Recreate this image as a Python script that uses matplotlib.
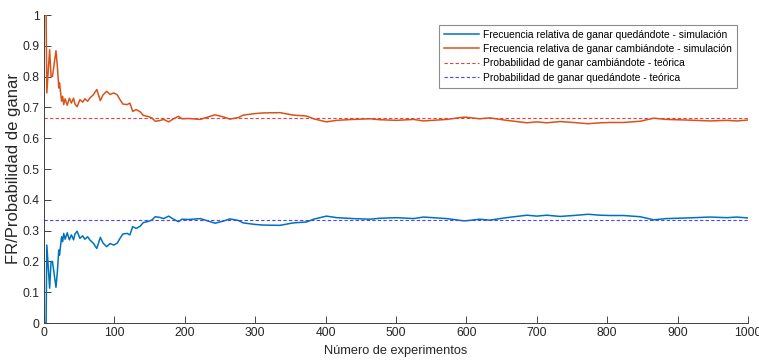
import matplotlib.pyplot as plt
import numpy as np

# numero de experimento donde se leyo cada punto
n_exp = [1, 3, 4, 8, 10, 12, 17, 19, 21, 22, 25, 26.5, 28, 30, 33, 36, 39, 42, 44, 47,
         51, 55, 58, 62, 65, 70, 75, 80, 84, 89, 94, 99, 104, 108, 112, 118, 122, 126,
         131, 137, 141, 147, 153, 158, 164, 170, 177, 184, 191, 196, 205, 222, 243, 255,
         264, 276, 283, 300, 311, 335, 354, 373, 383, 401, 416, 439, 463, 477, 501, 525,
         539, 572, 595, 600, 619, 633, 657, 686, 700, 714, 733, 752, 773, 790, 804, 823,
         847, 866, 884, 913, 946, 970, 984, 1000]

fr_quedar = [0, 0, 0.253, 0.113, 0.199, 0.2, 0.116, 0.167, 0.237, 0.22, 0.28, 0.264, 0.291,
             0.272, 0.293, 0.27, 0.286, 0.27, 0.289, 0.298, 0.275, 0.283, 0.272, 0.28, 0.27,
             0.259, 0.242, 0.278, 0.259, 0.248, 0.258, 0.253, 0.259, 0.275, 0.289, 0.291,
             0.286, 0.313, 0.307, 0.315, 0.326, 0.329, 0.334, 0.345, 0.343, 0.339, 0.347,
             0.337, 0.329, 0.337, 0.336, 0.339, 0.324, 0.331, 0.338, 0.333, 0.325, 0.320,
             0.318, 0.317, 0.325, 0.328, 0.337, 0.347, 0.342, 0.339, 0.337, 0.340, 0.342,
             0.339, 0.344, 0.339, 0.332, 0.332, 0.337, 0.334, 0.342, 0.350, 0.347, 0.350,
             0.346, 0.349, 0.353, 0.350, 0.349, 0.349, 0.345, 0.335, 0.339, 0.341, 0.344,
             0.342, 0.344, 0.341]

fr_cambiar = [1, 1, 0.747, 0.887, 0.801, 0.8, 0.884, 0.833, 0.763, 0.78, 0.72, 0.736, 0.709,
              0.728, 0.707, 0.73, 0.714, 0.73, 0.711, 0.702, 0.725, 0.717, 0.728, 0.72, 0.73,
              0.741, 0.758, 0.722, 0.741, 0.752, 0.742, 0.747, 0.741, 0.725, 0.711, 0.709,
              0.714, 0.687, 0.693, 0.685, 0.674, 0.671, 0.666, 0.655, 0.657, 0.661, 0.653,
              0.663, 0.671, 0.663, 0.664, 0.661, 0.676, 0.669, 0.662, 0.667, 0.675, 0.680,
              0.682, 0.683, 0.675, 0.672, 0.663, 0.653, 0.658, 0.661, 0.663, 0.660, 0.658,
              0.661, 0.656, 0.661, 0.668, 0.668, 0.663, 0.666, 0.658, 0.650, 0.653, 0.650,
              0.654, 0.651, 0.647, 0.650, 0.651, 0.651, 0.655, 0.665, 0.661, 0.659, 0.656,
              0.658, 0.656, 0.659]

p_cambiar = 2 / 3
p_quedar = 1 / 3

plt.rcParams['font.family'] = ['Liberation Sans', 'DejaVu Sans']

fig = plt.figure(figsize=(7.59, 3.61), dpi=100)
ax = fig.add_axes([44 / 759, 1 - 323 / 361, (748 - 44) / 759, (323 - 15) / 361])

ax.plot(n_exp, fr_quedar, color='#0072BD', lw=1.1,
        label='Frecuencia relativa de ganar quedándote - simulación')
ax.plot(n_exp, fr_cambiar, color='#D95319', lw=1.1,
        label='Frecuencia relativa de ganar cambiándote - simulación')
ax.axhline(p_cambiar, color='#e8413c', lw=0.8, ls=(0, (3, 2)),
           label='Probabilidad de ganar cambiándote - teórica')
ax.axhline(p_quedar, color='#4646ff', lw=0.8, ls=(0, (3, 2)),
           label='Probabilidad de ganar quedándote - teórica')

ax.set_xlim(0, 1000)
ax.set_ylim(0, 1)
ax.set_xticks(np.arange(0, 1001, 100))
ax.set_yticks(np.arange(0, 1.01, 0.1))
ax.set_yticklabels(['0', '0.1', '0.2', '0.3', '0.4', '0.5', '0.6', '0.7', '0.8', '0.9', '1'])
ax.spines['top'].set_visible(False)
ax.spines['right'].set_visible(False)
for s in ['left', 'bottom']:
    ax.spines[s].set_color('#404040')
    ax.spines[s].set_linewidth(0.7)
ax.tick_params(direction='in', length=5, width=0.6, colors='#262626', labelsize=8.8, pad=3)

ax.set_xlabel('Número de experimentos', fontsize=9.2, color='#262626', labelpad=4)
ax.set_ylabel('FR/Probabilidad de ganar', fontsize=12, color='#262626')
ax.yaxis.set_label_coords(-0.033, 0.5)

leg = ax.legend(loc='upper right', bbox_to_anchor=(736.7 / 759, 1 - 25 / 361),
                bbox_transform=fig.transFigure, fontsize=7.4, frameon=True, fancybox=False,
                framealpha=1, edgecolor='#8c8c8c', borderpad=0.45, labelspacing=0.43,
                handlelength=3.4, handletextpad=0.42, borderaxespad=0)
leg.get_frame().set_linewidth(0.8)

fig.savefig('out.png', dpi=100)
